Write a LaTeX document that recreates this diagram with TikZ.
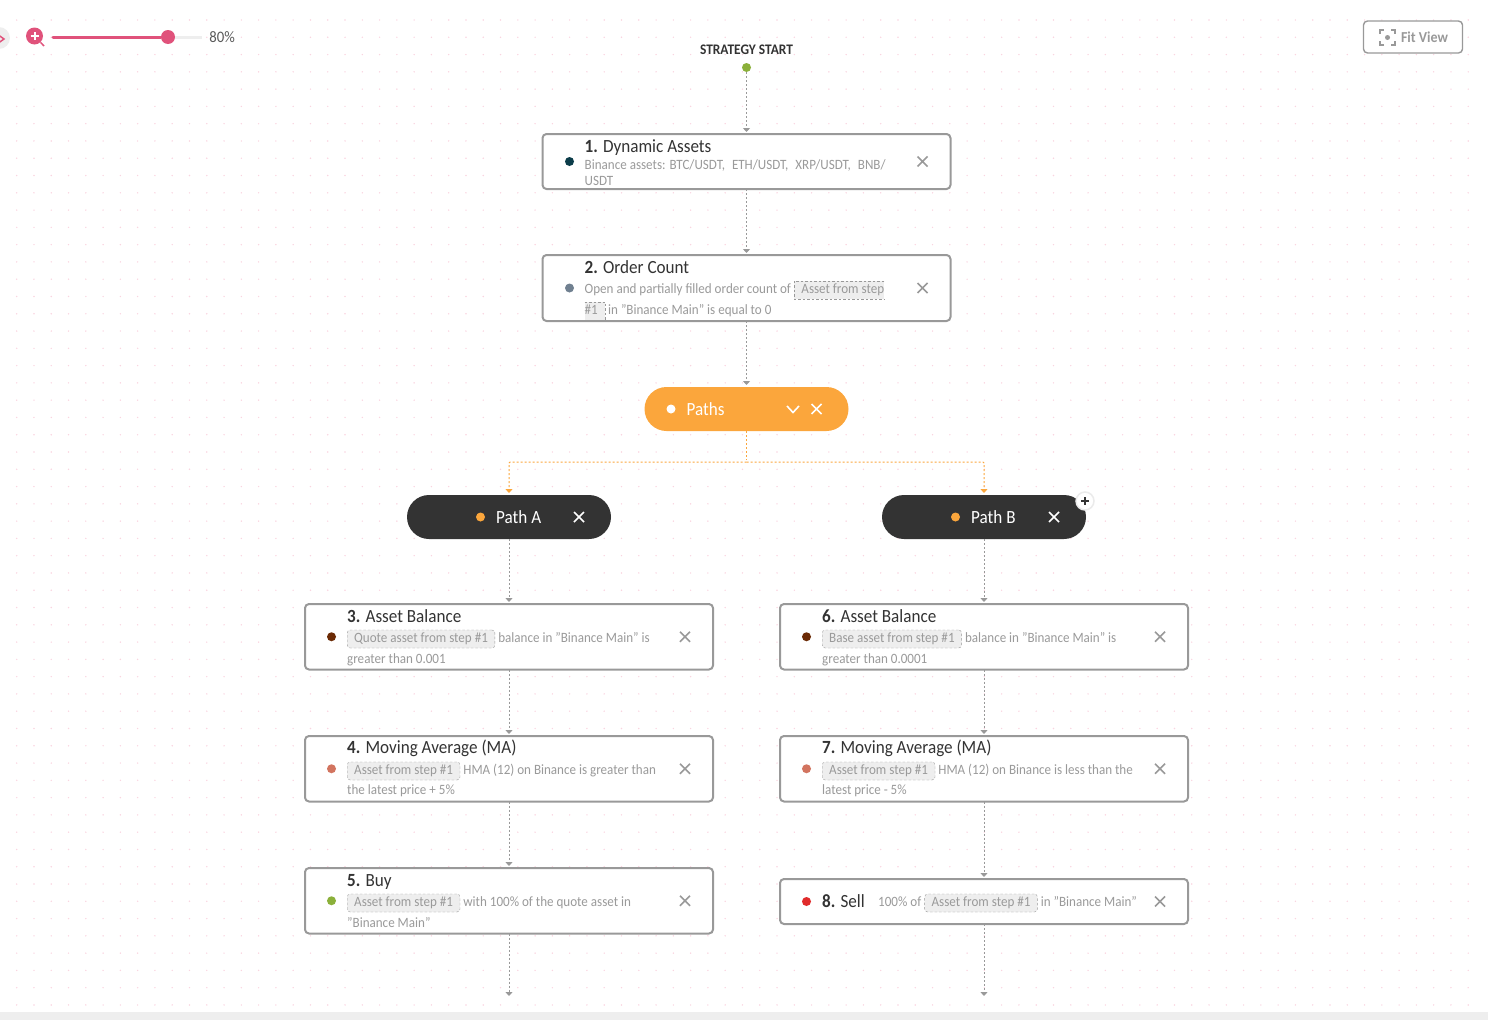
\documentclass[tikz,border=0pt]{standalone}
\usepackage{fontspec}
\setmainfont[FakeStretch=0.92]{Carlito}
\usepackage{xcolor}
\usetikzlibrary{positioning, arrows.meta, shapes.misc}

\definecolor{linegray}{HTML}{999999}
\definecolor{descgray}{HTML}{9A9A9A}
\definecolor{taggray}{HTML}{EEEEEE}
\definecolor{griddot}{HTML}{F9D5E0}
\definecolor{zoompink}{HTML}{E0527B}
\definecolor{pathorange}{HTML}{FBA63C}
\definecolor{pathdark}{HTML}{333333}
\definecolor{teal}{HTML}{0B3C49}
\definecolor{slate}{HTML}{708090}
\definecolor{brown}{HTML}{6B2A05}
\definecolor{salmon}{HTML}{D2745F}
\definecolor{leaf}{HTML}{8BB03A}
\definecolor{alert}{HTML}{E02B2B}

\tikzset{
  stepbox/.style={rectangle, draw=linegray, line width=2pt, fill=white, rounded corners=4pt, minimum width=408pt, outer sep=0pt},
  pill/.style={rectangle, fill=#1, rounded corners=22pt, minimum width=204pt, minimum height=44pt, outer sep=0pt},
  marker/.style={circle, fill=#1, minimum size=9pt, inner sep=0pt, outer sep=0pt},
  closeicon/.style={cross out, draw=#1, line width=1.7pt, minimum size=10pt, inner sep=0pt, outer sep=0pt},
  title/.style={inner sep=0pt, text=pathdark, font=\fontsize{18.6}{20}\selectfont},
  desc/.style={inner sep=0pt, text=descgray, font=\fontsize{14.2}{16}\selectfont},
  tag/.style={desc, rectangle, draw=linegray, dash pattern=on 2.5pt off 2pt, fill=taggray, rounded corners=3pt, inner xsep=7pt, text height=9.5pt, text depth=3.5pt, inner ysep=2.5pt},
  tagpart/.style={desc, rectangle, fill=taggray, text height=9.5pt, text depth=3.5pt, inner ysep=2.5pt},
  conn/.style={draw=linegray, line width=1pt, dash pattern=on 2pt off 2pt, -{Triangle[width=7pt,length=4pt]}, shorten >=2pt},
  orangeconn/.style={conn, draw=pathorange, rounded corners=1pt},
}

\begin{document}
\begin{tikzpicture}[x=1pt, y=-1pt, node distance=4pt]
\useasboundingbox (0,0) rectangle (1488,1020);

% Dotted background
\foreach \i in {0,...,84}
  \foreach \j in {0,...,57}
    \fill[griddot] (16.7+17.28*\i, 20+17.28*\j) circle (0.8pt);
\fill[taggray] (0,1012) rectangle (1488,1020);

% Zoom bar
\fill[taggray] (-1,38) circle (11pt);
\draw[zoompink, line width=1.5pt] (-3,34) -- (4,39) -- (-3,44);
\node (zoomin) [circle, fill=zoompink, minimum size=17pt, inner sep=0pt] at (34.5,36) {};
\draw[white, line width=2pt] (30.5,36) -- (38.5,36) (34.5,32) -- (34.5,40);
\draw[zoompink, line width=1.5pt] (zoomin) -- (44,46);
\coordinate (barstart) at (53,37);
\coordinate (barend) at (202,37);
\node (knob) [circle, fill=zoompink, minimum size=14pt, inner sep=0pt] at (168,37) {};
\draw[taggray, line width=3pt] (knob) -- (barend);
\draw[zoompink, line width=3pt, line cap=round] (barstart) -- (knob);
\node (zoomval) [right=34pt of knob, yshift=-0.5pt, inner sep=0pt, text=black!65, font=\fontsize{16}{16}\selectfont] {80\%};

% Fit view button
\node (fit) [rectangle, draw=linegray, line width=1.4pt, rounded corners=4pt, minimum width=99pt, minimum height=32pt, fill=white] at (1413,37) {};
\node (fitlabel) [inner sep=0pt, text=linegray, font=\fontsize{15.2}{16}\selectfont\bfseries] at (1424.5,37.5) {Fit View};
\node (fitdot) [circle, fill=linegray, minimum size=5pt, inner sep=0pt] at (1387.5,37.5) {};
\draw[linegray, line width=1.6pt] (1380,34) |- (1384,30) (1391,30) -| (1395,34) (1395,41) |- (1391,45) (1384,45) -| (1380,41);

% Start
\node (start) [marker=leaf] at (746.5,67.5) {};
\node (startlabel) [above=8pt of start, inner sep=0pt, text=pathdark, font=\fontsize{14.6}{16}\selectfont\bfseries] {STRATEGY START};

% Common part
\node (box1) [stepbox, minimum height=55pt, below=62pt of start] {};
\node (box2) [stepbox, minimum height=66pt, below=66pt of box1] {};
\node (paths) [pill=pathorange, below=66pt of box2] {};

\node (m1) [marker=teal, right=22.5pt of box1.west] {};
\node (x1) [closeicon=linegray, left=23pt of box1.east] {};
\node (t1) [title, below right=18pt and 42pt of box1.north west, anchor=base west] {\textbf{1.} Dynamic Assets};
\node (d1) [desc, below right=35pt and 42pt of box1.north west, anchor=base west] {Binance assets: BTC/USDT,\hspace{4pt} ETH/USDT,\hspace{4pt} XRP/USDT,\hspace{4pt} BNB/};
\node (e1) [desc, below right=51pt and 42pt of box1.north west, anchor=base west] {USDT};

\node (m2) [marker=slate, right=22.5pt of box2.west] {};
\node (x2) [closeicon=linegray, left=23pt of box2.east] {};
\node (t2) [title, below right=18pt and 42pt of box2.north west, anchor=base west] {\textbf{2.} Order Count};
\node (d2) [desc, below right=38pt and 42pt of box2.north west, anchor=base west] {Open and partially filled order count of};
\node (g2) [tagpart, base right=3pt of d2, inner xsep=0pt] {\hspace{7pt}Asset from step};
\draw[linegray, dash pattern=on 2.5pt off 2pt] (g2.north east) -- (g2.north west) -- (g2.south west) -- (g2.south east);
\node (h2) [tagpart, below right=59pt and 42pt of box2.north west, anchor=base west, inner xsep=0pt] {\#1\hspace{7pt}\null};
\draw[linegray, dash pattern=on 2.5pt off 2pt] (h2.north west) -- (h2.north east) -- (h2.south east) -- (h2.south west);
\node (e2) [desc, base right=3pt of h2] {in "Binance Main" is equal to 0};

\node (mp) [marker=white, right=22pt of paths.west] {};
\node (tp) [right=11pt of mp, inner sep=0pt, text=white, font=\fontsize{18.6}{20}\selectfont] {Paths};
\node (xp) [closeicon=white, left=27pt of paths.east] {};
\draw[white, line width=1.6pt] (787,406) -- (793,412.5) -- (799,406);

% Paths
\node (patha) [pill=pathdark] at (509,517) {};
\node (pathb) [pill=pathdark] at (984,517) {};

\node (ma) [marker=pathorange, left=24pt of patha.center] {};
\node (ta) [right=11pt of ma, inner sep=0pt, text=white, font=\fontsize{18.6}{20}\selectfont] {Path A};
\node (xa) [closeicon=white, left=27pt of patha.east] {};

\node (mb) [marker=pathorange, left=24pt of pathb.center] {};
\node (tb) [right=11pt of mb, inner sep=0pt, text=white, font=\fontsize{18.6}{20}\selectfont] {Path B};
\node (xb) [closeicon=white, left=27pt of pathb.east] {};
\node (addb) [circle, draw=black!8, line width=1.5pt, fill=white, minimum size=18pt, inner sep=0pt] at (1085,501) {};
\draw[pathdark, line width=1.8pt] (1081,501) -- (1089,501) (1085,497) -- (1085,505);

% Path A steps
\node (box3) [stepbox, minimum height=65.5pt, below=65pt of patha] {};
\node (box4) [stepbox, minimum height=65.5pt, below=66.5pt of box3] {};
\node (box5) [stepbox, minimum height=65.5pt, below=66.5pt of box4] {};
\coordinate (end5) at (509,998);

\node (m3) [marker=brown, right=22pt of box3.west] {};
\node (x3) [closeicon=linegray, left=23pt of box3.east] {};
\node (t3) [title, below right=18pt and 42pt of box3.north west, anchor=base west] {\textbf{3.} Asset Balance};
\node (g3) [tag, below right=38pt and 42pt of box3.north west, anchor=base west] {Quote asset from step \#1};
\node (d3) [desc, base right=3pt of g3] {balance in "Binance Main" is};
\node (e3) [desc, below right=59pt and 42pt of box3.north west, anchor=base west] {greater than 0.001};

\node (m4) [marker=salmon, right=22pt of box4.west] {};
\node (x4) [closeicon=linegray, left=23pt of box4.east] {};
\node (t4) [title, below right=17pt and 42pt of box4.north west, anchor=base west] {\textbf{4.} Moving Average (MA)};
\node (g4) [tag, below right=38pt and 42pt of box4.north west, anchor=base west] {Asset from step \#1};
\node (d4) [desc, base right=3pt of g4] {HMA (12) on Binance is greater than};
\node (e4) [desc, below right=58pt and 42pt of box4.north west, anchor=base west] {the latest price + 5\%};

\node (m5) [marker=leaf, right=22pt of box5.west] {};
\node (x5) [closeicon=linegray, left=23pt of box5.east] {};
\node (t5) [title, below right=18pt and 42pt of box5.north west, anchor=base west] {\textbf{5.} Buy};
\node (g5) [tag, below right=38pt and 42pt of box5.north west, anchor=base west] {Asset from step \#1};
\node (d5) [desc, base right=3pt of g5] {with 100\% of the quote asset in};
\node (e5) [desc, below right=59pt and 42pt of box5.north west, anchor=base west] {"Binance Main"};

% Path B steps
\node (box6) [stepbox, minimum height=65.5pt, below=65pt of pathb] {};
\node (box7) [stepbox, minimum height=65.5pt, below=66.5pt of box6] {};
\node (box8) [stepbox, minimum height=45pt, below=77.5pt of box7] {};
\coordinate (end8) at (984,998);

\node (m6) [marker=brown, right=22pt of box6.west] {};
\node (x6) [closeicon=linegray, left=23pt of box6.east] {};
\node (t6) [title, below right=18pt and 42pt of box6.north west, anchor=base west] {\textbf{6.} Asset Balance};
\node (g6) [tag, below right=38pt and 42pt of box6.north west, anchor=base west] {Base asset from step \#1};
\node (d6) [desc, base right=3pt of g6] {balance in "Binance Main" is};
\node (e6) [desc, below right=59pt and 42pt of box6.north west, anchor=base west] {greater than 0.0001};

\node (m7) [marker=salmon, right=22pt of box7.west] {};
\node (x7) [closeicon=linegray, left=23pt of box7.east] {};
\node (t7) [title, below right=17pt and 42pt of box7.north west, anchor=base west] {\textbf{7.} Moving Average (MA)};
\node (g7) [tag, below right=38pt and 42pt of box7.north west, anchor=base west] {Asset from step \#1};
\node (d7) [desc, base right=3pt of g7] {HMA (12) on Binance is less than the};
\node (e7) [desc, below right=58pt and 42pt of box7.north west, anchor=base west] {latest price - 5\%};

\node (m8) [marker=alert, right=22pt of box8.west] {};
\node (x8) [closeicon=linegray, left=23pt of box8.east] {};
\node (t8) [title, below right=28pt and 42pt of box8.north west, anchor=base west] {\textbf{8.} Sell};
\node (f8) [desc, below right=27pt and 98pt of box8.north west, anchor=base west] {100\% of};
\node (g8) [tag, base right=3pt of f8] {Asset from step \#1};
\node (d8) [desc, base right=3pt of g8] {in "Binance Main"};

% Arrows
\draw[conn] (start) -- (box1);
\draw[conn] (box1) -- (box2);
\draw[conn] (box2) -- (paths);
\coordinate (fork) at (746.5,462);
\draw[orangeconn, -] (paths) -- (fork);
\draw[orangeconn] (fork) -| (patha);
\draw[orangeconn] (fork) -| (pathb);
\draw[conn] (patha) -- (box3);
\draw[conn] (box3) -- (box4);
\draw[conn] (box4) -- (box5);
\draw[conn] (box5) -- (end5);
\draw[conn] (pathb) -- (box6);
\draw[conn] (box6) -- (box7);
\draw[conn] (box7) -- (box8);
\draw[conn] (box8) -- (end8);

\end{tikzpicture}
\end{document}
